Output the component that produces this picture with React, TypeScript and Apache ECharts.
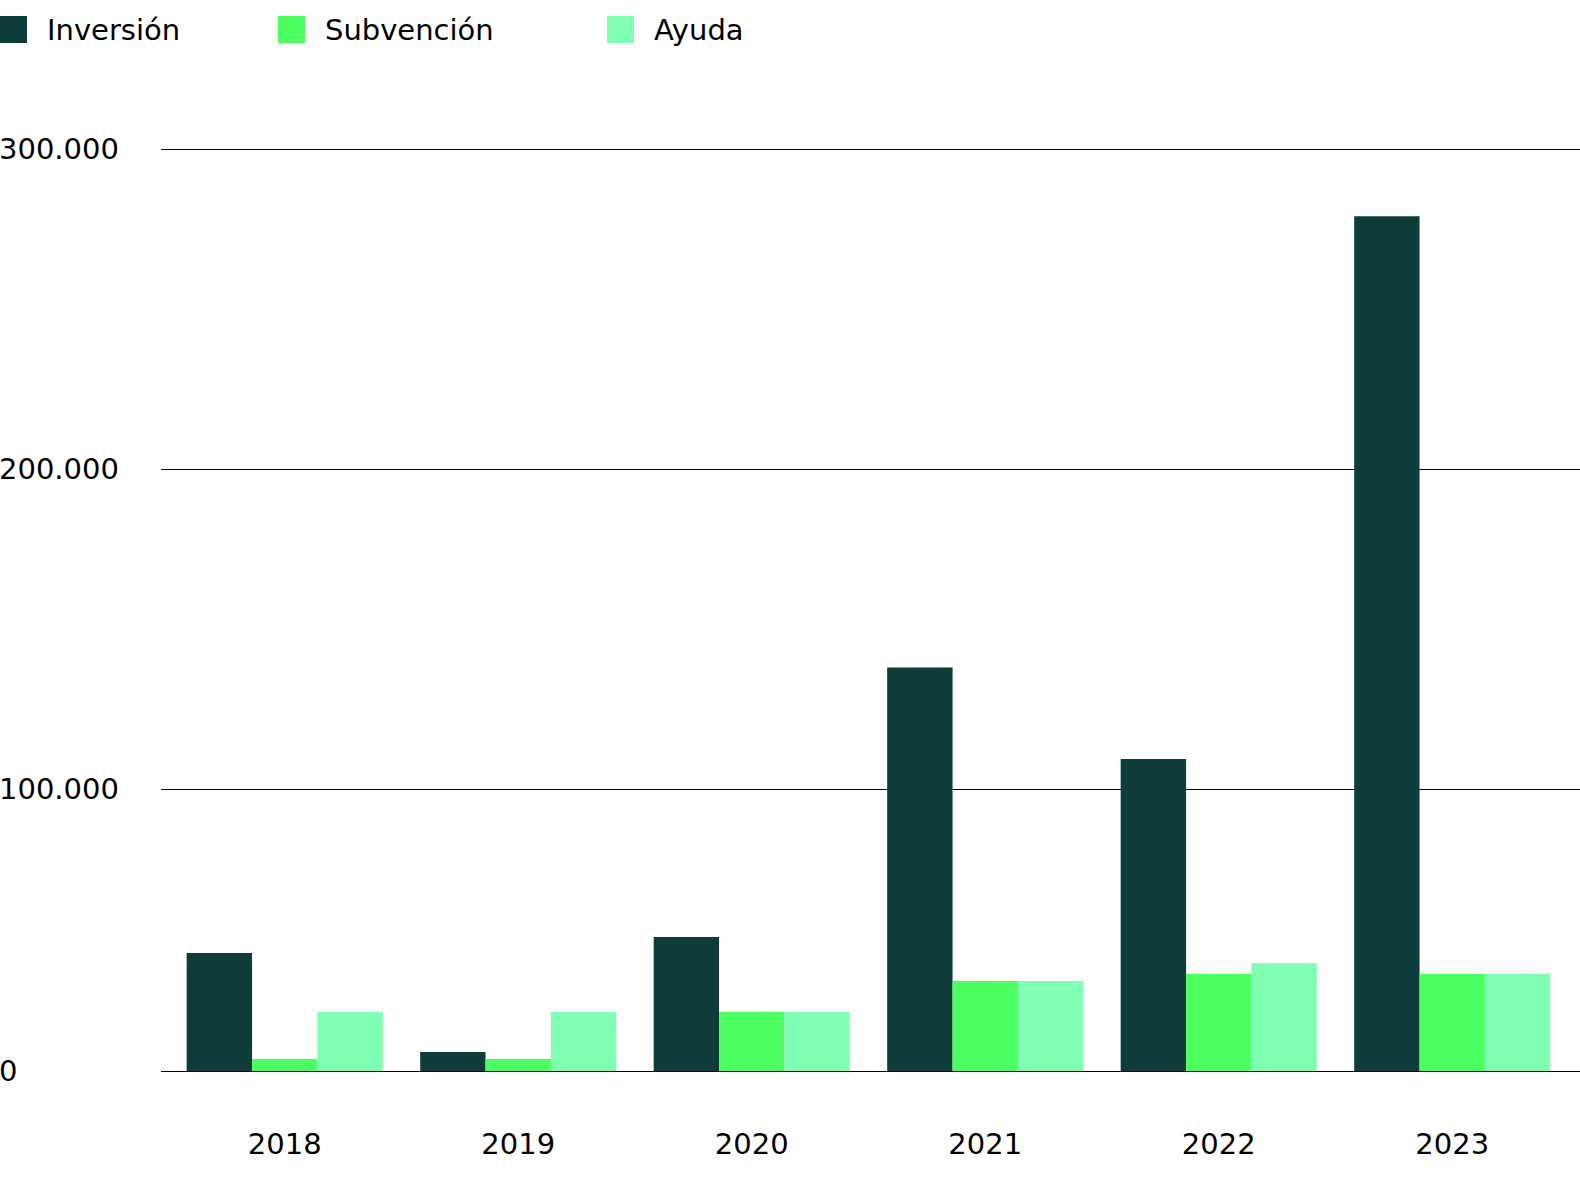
import React, { useEffect, useRef } from "react";
import * as echarts from "echarts";

const years = ["2018", "2019", "2020", "2021", "2022", "2023"];
const inversion = [48750, 17800, 53750, 138000, 109400, 279000];
const subvencion = [15600, 15600, 30300, 40000, 42200, 42200];
const ayuda = [30300, 30300, 30300, 40000, 45600, 42200];
const seriesNames = ["Inversión", "Subvención", "Ayuda"];
const colors = ["#0D3C3A", "#4BFF60", "#80FFB4"];
const Y_MIN = 11875;
const Y_MAX = 300000;

const FONT = "DejaVu Sans";

function fmt(v: number): string {
  if (v === Y_MIN) return "0";
  return String(Math.round(v)).replace(/\B(?=(\d{3})+(?!\d))/g, ".");
}

export default function App() {
  const ref = useRef<HTMLDivElement>(null);
  useEffect(() => {
    if (!ref.current) return;
    const chart = echarts.init(ref.current, undefined, { renderer: "svg" });
    const legendBase = {
      top: 15,
      padding: 0,
      itemWidth: 27,
      itemHeight: 27,
      icon: "rect",
      textStyle: { fontFamily: FONT, fontSize: 29, color: "#000", padding: [0, 0, 0, 15] },
    };
    chart.setOption({
      animation: false,
      backgroundColor: "#fff",
      legend: [
        { ...legendBase, left: 0, data: [seriesNames[0]] },
        { ...legendBase, left: 278, data: [seriesNames[1]] },
        { ...legendBase, left: 607, data: [seriesNames[2]] },
      ],
      grid: [
        { left: 161, right: 0, top: 149, bottom: 112, outerBoundsMode: "none", containLabel: false },
        { left: 168, right: 11, top: 149, bottom: 112, outerBoundsMode: "none", containLabel: false },
      ],
      xAxis: [
        { type: "category", gridIndex: 0, data: years, show: false },
        {
          type: "category",
          gridIndex: 1,
          data: years,
          axisLine: { show: false },
          axisTick: { show: false },
          axisLabel: { fontFamily: FONT, fontSize: 29, color: "#000", margin: 58 },
        },
      ],
      yAxis: [
        {
          type: "value",
          gridIndex: 0,
          min: Y_MIN,
          max: Y_MAX,
          splitNumber: 3,
          axisLine: { show: false },
          axisTick: { show: false },
          splitLine: { show: true, lineStyle: { color: "#000", width: 1 } },
          axisLabel: {
            fontFamily: FONT,
            fontSize: 29,
            color: "#000",
            align: "left",
            margin: 162,
            padding: [0, 0, 8, 0],
            formatter: fmt,
          },
        },
        {
          type: "value",
          gridIndex: 1,
          min: Y_MIN,
          max: Y_MAX,
          splitNumber: 3,
          show: false,
          splitLine: { show: false },
        },
      ],
      series: [inversion, subvencion, ayuda].map((d, i) => ({
        name: seriesNames[i],
        type: "bar",
        xAxisIndex: 1,
        yAxisIndex: 1,
        data: d,
        barGap: "0%",
        barCategoryGap: "16%",
        itemStyle: { color: colors[i] },
      })),
    });
    return () => chart.dispose();
  }, []);
  return (
    <div
      ref={ref}
      style={{ position: "fixed", left: 0, top: 0, width: 1580, height: 1183 }}
    />
  );
}
